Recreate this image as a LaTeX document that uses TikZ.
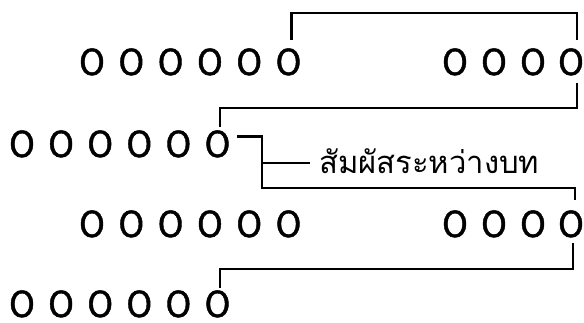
\documentclass[tikz,border=0pt]{standalone}
\usepackage{fontspec}
\newfontfamily\thaifont[Script=Thai]{Loma}
\newfontfamily\ofont[FakeBold=1.2]{DejaVu Sans Condensed}
\begin{document}
\begin{tikzpicture}[x=1pt,y=-1pt,
 syl/.style={font=\ofont\fontsize{36}{36}\selectfont,inner sep=0pt,anchor=base,text height=25pt,text depth=0pt},
 lbl/.style={font=\thaifont\fontsize{31}{31}\selectfont,inner sep=0pt,anchor=west,text height=20pt,text depth=0pt},
 link/.style={line width=2.4pt,line join=miter}]
 \useasboundingbox (0,0) rectangle (584,322);
 \foreach \i in {1,...,6} \node[syl] (a\i) at ({92+39.3*(\i-1)},75) {O};
 \foreach \i/\x in {7/455,8/494,9/533,10/571} \node[syl] (a\i) at (\x,75) {O};
 \foreach \i in {1,...,6} \node[syl] (b\i) at ({22+39.1*(\i-1)},157) {O};
 \foreach \i in {1,...,6} \node[syl] (c\i) at ({92+39.3*(\i-1)},237) {O};
 \foreach \i/\x in {7/455,8/494,9/533,10/571} \node[syl] (c\i) at (\x,237) {O};
 \foreach \i in {1,...,6} \node[syl] (d\i) at ({22+39.1*(\i-1)},317) {O};
 \node[lbl] (rhyme) at (319,163) {สัมผัสระหว่างบท};
 \coordinate (k1) at (0,13);
 \coordinate (k2) at (0,108);
 \coordinate (k3) at (262,188);
 \coordinate (k4) at (0,269);
 \coordinate (a6t) at ([xshift=3pt,yshift=10pt]a6.north);
 \coordinate (a10t) at ([xshift=6pt,yshift=10pt]a10.north);
 \coordinate (a10b) at ([xshift=6pt,yshift=-8pt]a10.south);
 \coordinate (b6t) at ([xshift=2.5pt,yshift=5pt]b6.north);
 \coordinate (b6r) at ([xshift=7pt,yshift=8pt]b6.east);
 \coordinate (c10t) at ([xshift=4pt,yshift=12pt]c10.north);
 \coordinate (c10b) at ([xshift=2pt,yshift=-6pt]c10.south);
 \coordinate (d6t) at ([xshift=2.5pt,yshift=4pt]d6.north);
 \draw[link] (a6t) -- (a6t |- k1) -- (a10t |- k1) -- (a10t);
 \draw[link] (a10b) -- (a10b |- k2) -- (b6t |- k2) -- (b6t);
 \draw[link] (b6r) -| (k3) -- (c10t |- k3) -- (c10t);
 \draw[link] (k3 |- rhyme.west) -- ([xshift=-9pt]rhyme.west);
 \draw[link] (c10b) -- (c10b |- k4) -- (d6t |- k4) -- (d6t);
\end{tikzpicture}
\end{document}
